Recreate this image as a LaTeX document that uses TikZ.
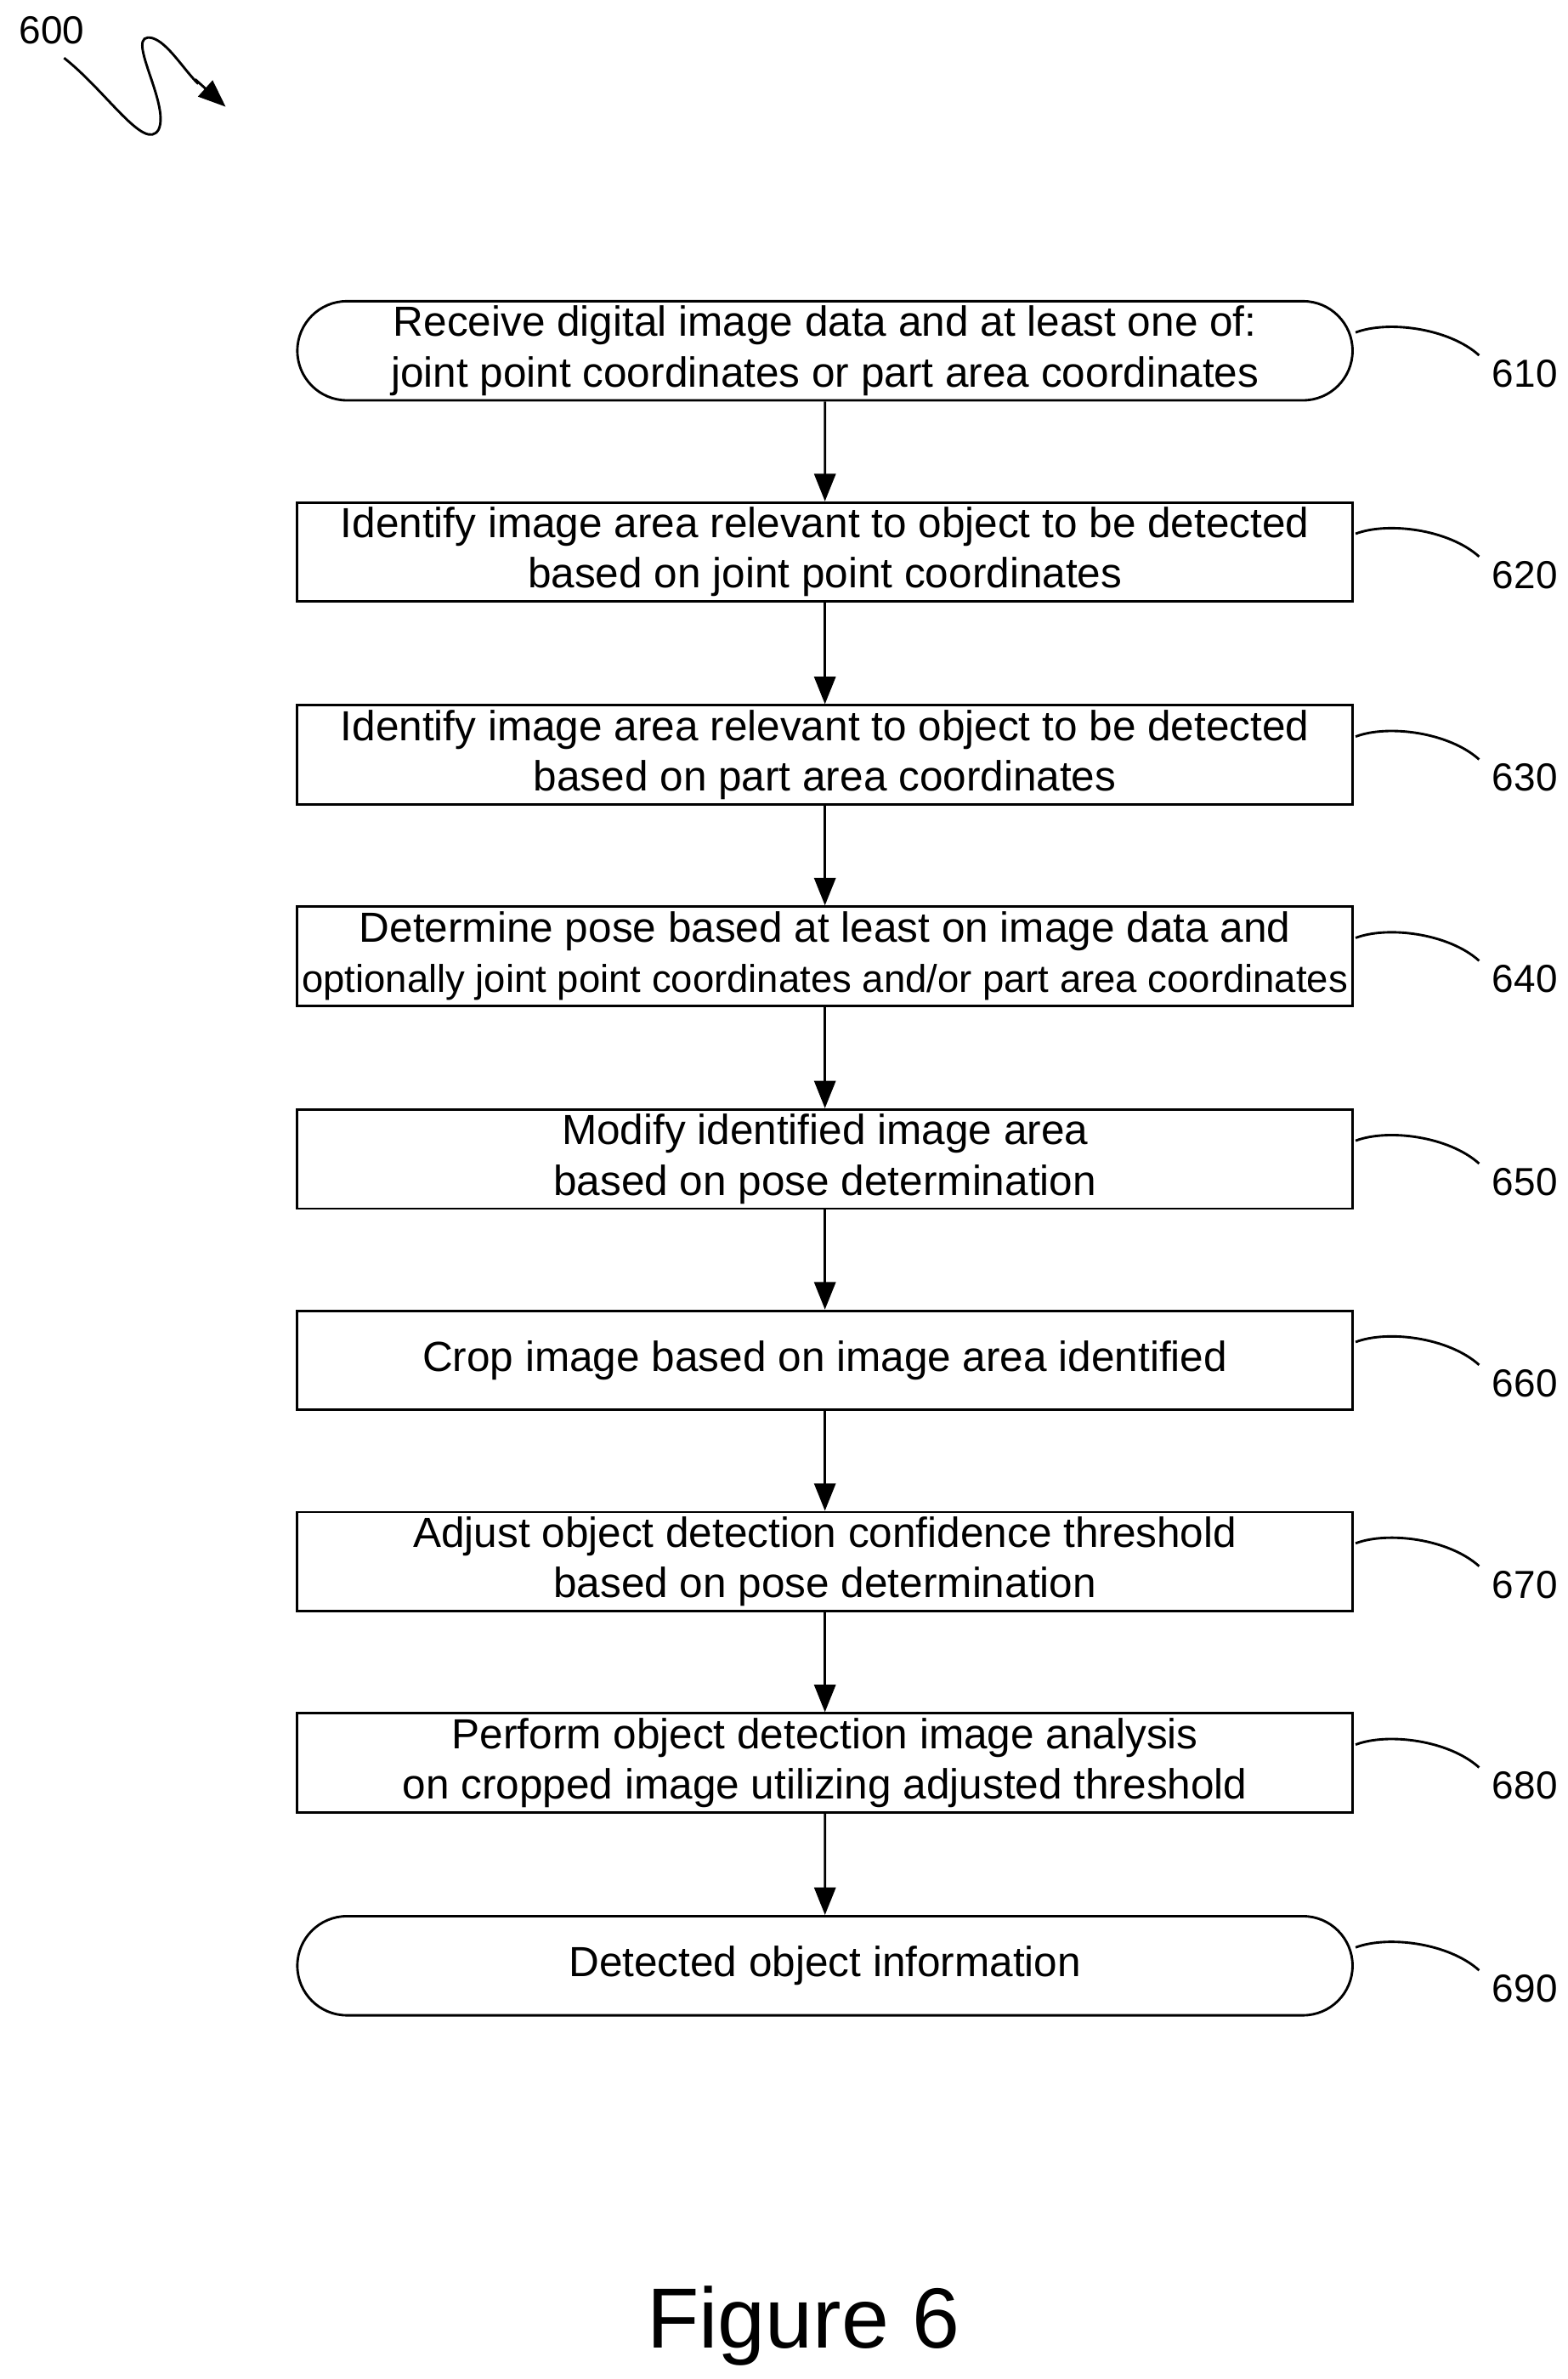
\documentclass[tikz,border=0pt]{standalone}
\usepackage{fontspec}
\setmainfont{Liberation Sans}
\usetikzlibrary{arrows.meta,shapes.misc}
\begin{document}
\begin{tikzpicture}[x=0.5pt,y=-0.5pt,
 box/.style={draw,line width=0.8pt,minimum width=346pt,minimum height=32.5pt,align=center,font=\fontsize{13.8}{16.5}\selectfont,inner sep=0pt},
 term/.style={box,rounded rectangle},
 arr/.style={-{Triangle[length=9pt,width=7pt]},line width=0.8pt},
 lab/.style={font=\fontsize{12.8}{15}\selectfont},
 lead/.style={line width=0.8pt}]
\useasboundingbox (0,0) rectangle (1028,1560);
\node[lab] (n600) at (34,20) {600};
\draw[lead] (42,38) .. controls (70,60) and (95,100) .. (104,85) .. controls (112,68) and (80,20) .. (100,25) .. controls (110,28) and (120,45) .. (130,55);
\coordinate (a600) at (148,70);
\draw[arr] (128,52) -- (a600);
\foreach \n/\y/\t/\s in {
 610/230/{Receive digital image data and at least one of:\\joint point coordinates or part area coordinates}/term,
 620/362/{Identify image area relevant to object to be detected\\based on joint point coordinates}/box,
 630/495/{Identify image area relevant to object to be detected\\based on part area coordinates}/box,
 640/627/{Determine pose based at least on image data and\\\resizebox{343pt}{!}{optionally joint point coordinates and/or part area coordinates}}/box,
 650/760/{Modify identified image area\\based on pose determination}/box,
 660/892/{Crop image based on image area identified}/box,
 670/1024/{Adjust object detection confidence threshold\\based on pose determination}/box,
 680/1156/{Perform object detection image analysis\\on cropped image utilizing adjusted threshold}/box,
 690/1289/{Detected object information}/term}{
 \node[\s] (b\n) at (541,\y) {\t};
 \node[lab] (l\n) at (1000,\y+15) {\n};
 \draw[lead] (889,\y-12) .. controls (910,\y-20) and (950,\y-15) .. (970,\y+3);
}
\foreach \a/\b in {610/620,620/630,630/640,640/650,650/660,660/670,670/680,680/690}
 \draw[arr] (b\a) -- (b\b);
\node[font=\fontsize{28}{30}\selectfont] (fig) at (527,1525) {Figure 6};
\end{tikzpicture}
\end{document}
